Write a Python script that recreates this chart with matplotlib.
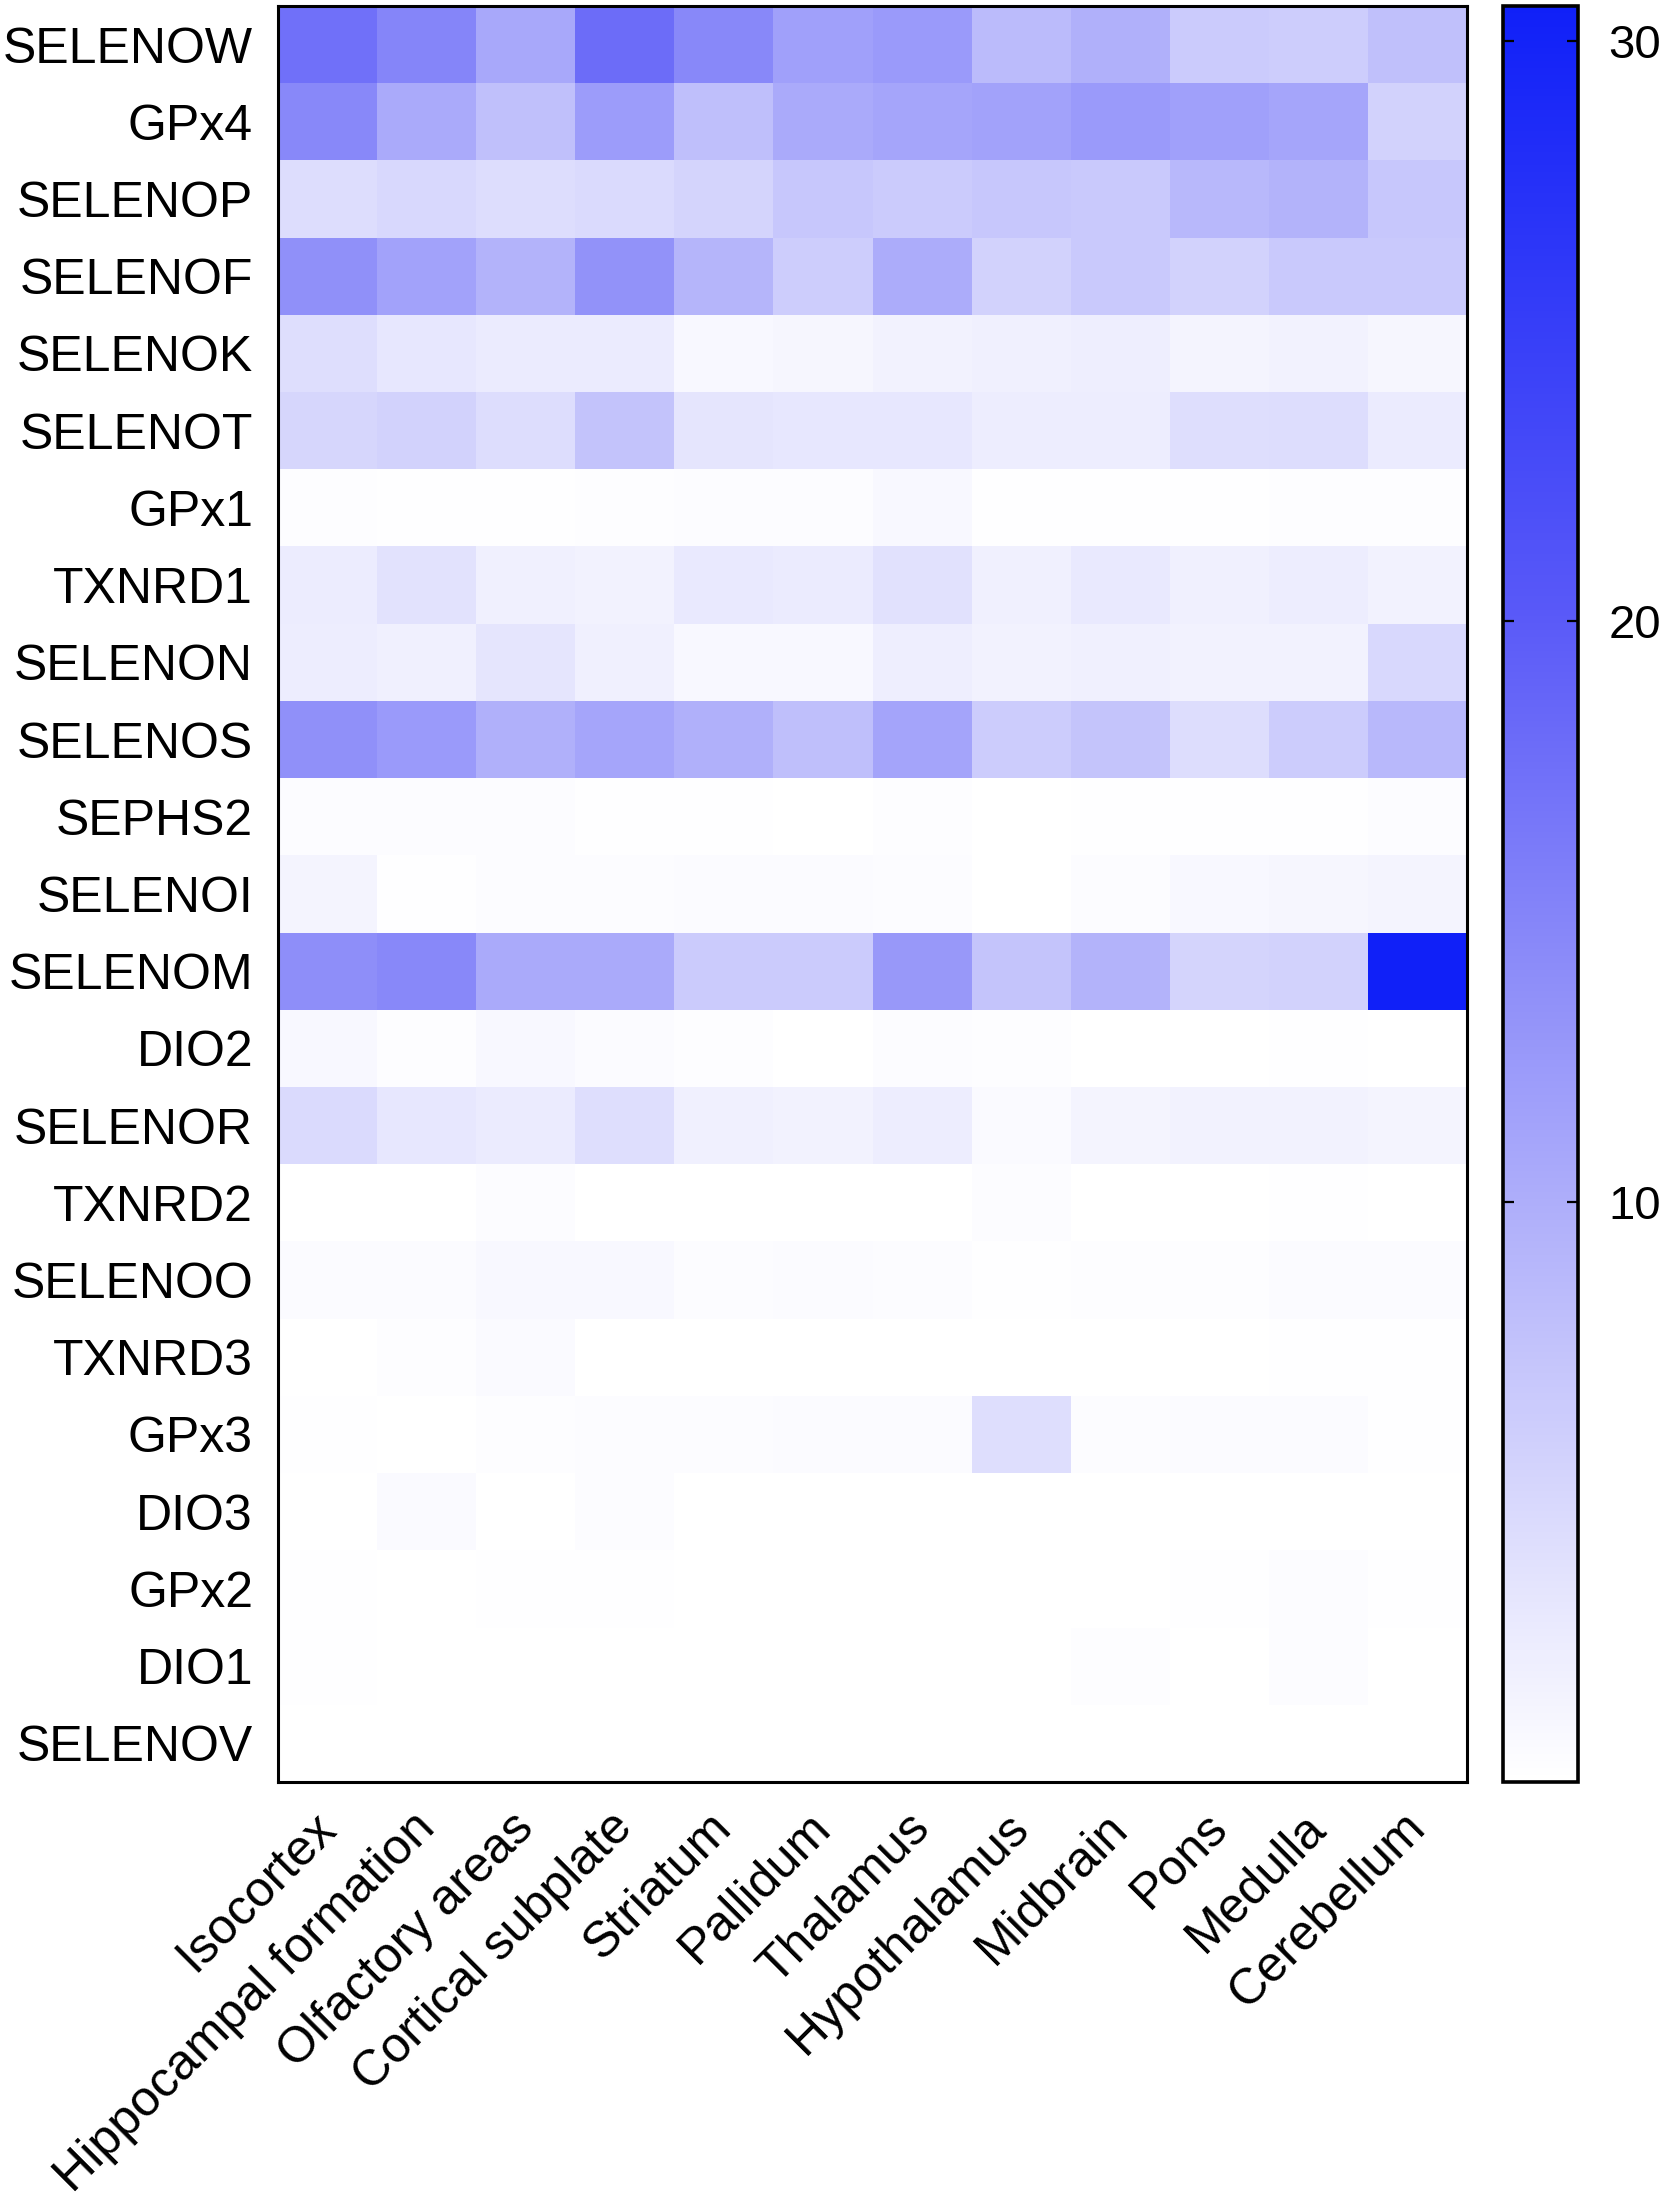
import numpy as np
import matplotlib
matplotlib.use("Agg")
import matplotlib.pyplot as plt
import matplotlib.transforms as mtransforms
from matplotlib.colors import LinearSegmentedColormap

plt.rcParams['font.family'] = ['Liberation Sans', 'DejaVu Sans']

# genes (rows, top to bottom) and brain regions (columns)
genes = ["SELENOW", "GPx4", "SELENOP", "SELENOF", "SELENOK", "SELENOT", "GPx1",
         "TXNRD1", "SELENON", "SELENOS", "SEPHS2", "SELENOI", "SELENOM", "DIO2",
         "SELENOR", "TXNRD2", "SELENOO", "TXNRD3", "GPx3", "DIO3", "GPx2", "DIO1",
         "SELENOV"]
regions = ["Isocortex", "Hippocampal formation", "Olfactory areas",
           "Cortical subplate", "Striatum", "Pallidum", "Thalamus",
           "Hypothalamus", "Midbrain", "Pons", "Medulla", "Cerebellum"]

# expression values
selenow = [17.4, 14.9, 10.7, 17.9, 14.5, 11.7, 12.4, 8.4, 9.8, 6.5, 6.2, 7.8]
gpx4 = [14.5, 10.5, 7.8, 12.1, 8.0, 10.5, 11.0, 11.4, 12.4, 11.7, 11.0, 5.6]
selenop = [4.3, 4.8, 4.3, 4.6, 5.3, 7.0, 6.5, 7.0, 6.8, 8.8, 9.4, 7.0]
selenof = [13.6, 11.4, 9.4, 13.3, 9.1, 6.2, 10.2, 5.6, 6.8, 5.6, 6.7, 6.8]
selenok = [4.1, 3.1, 2.6, 2.6, 0.9, 1.1, 1.6, 1.9, 2.1, 1.4, 1.6, 1.1]
selenot = [5.1, 5.6, 4.3, 7.5, 3.3, 3.1, 3.1, 2.3, 2.3, 4.1, 4.3, 2.6]
gpx1 = [0.25, 0.12, 0.12, 0.25, 0.37, 0.37, 0.9, 0.12, 0.12, 0.12, 0.25, 0.25]
txnrd1 = [2.5, 3.6, 1.9, 1.6, 2.8, 2.6, 3.8, 1.9, 2.8, 1.9, 2.3, 1.6]
selenon = [2.3, 1.9, 3.3, 1.9, 0.9, 0.9, 2.1, 1.6, 1.9, 1.6, 1.6, 4.8]
selenos = [13.6, 12.4, 9.8, 11.0, 9.8, 8.0, 11.2, 6.3, 7.3, 4.3, 6.3, 8.8]
sephs2 = [0.37, 0.37, 0.37, 0.12, 0.12, 0.0, 0.25, 0.0, 0.12, 0.12, 0.12, 0.37]
selenoi = [1.4, 0.12, 0.37, 0.37, 0.5, 0.5, 0.37, 0.0, 0.37, 0.9, 1.1, 1.4]
selenom = [13.8, 14.5, 10.4, 10.5, 6.5, 6.4, 12.6, 7.3, 9.4, 5.3, 5.6, 30.6]
dio2 = [0.9, 0.25, 0.9, 0.5, 0.25, 0.0, 0.37, 0.25, 0.0, 0.0, 0.12, 0.0]
selenor = [4.6, 3.1, 2.6, 4.1, 1.9, 1.6, 2.3, 0.6, 1.4, 1.6, 1.6, 1.4]
txnrd2 = [0.0, 0.0, 0.37, 0.0, 0.0, 0.0, 0.0, 0.37, 0.0, 0.0, 0.12, 0.0]
selenoo = [0.5, 0.5, 0.9, 0.9, 0.37, 0.5, 0.37, 0.12, 0.25, 0.25, 0.5, 0.5]
txnrd3 = [0.0, 0.25, 0.6, 0.0, 0.0, 0.0, 0.0, 0.0, 0.0, 0.0, 0.12, 0.12]
gpx3 = [0.12, 0.0, 0.25, 0.37, 0.37, 0.5, 0.5, 4.1, 0.37, 0.5, 0.5, 0.12]
dio3 = [0.0, 0.6, 0.0, 0.37, 0.0, 0.0, 0.0, 0.0, 0.0, 0.0, 0.0, 0.0]
gpx2 = [0.12, 0.0, 0.12, 0.12, 0.0, 0.0, 0.0, 0.0, 0.0, 0.12, 0.37, 0.12]
dio1 = [0.12, 0.0, 0.0, 0.0, 0.0, 0.0, 0.0, 0.0, 0.25, 0.0, 0.37, 0.0]
selenov = [0.05, 0.05, 0.05, 0.05, 0.05, 0.05, 0.05, 0.05, 0.05, 0.05, 0.05, 0.05]

cbar_ticks = [10, 20, 30]

data = np.array([selenow, gpx4, selenop, selenof, selenok, selenot, gpx1,
                 txnrd1, selenon, selenos, sephs2, selenoi, selenom, dio2,
                 selenor, txnrd2, selenoo, txnrd3, gpx3, dio3, gpx2, dio1,
                 selenov])

vmax = 30.6
# white -> blue, a bit convex like the original scale
cmap = LinearSegmentedColormap.from_list(
    "wb",
    [(0.0, (1, 1, 1)),
     (10 / vmax, (174 / 255, 174 / 255, 250 / 255)),
     (20 / vmax, (90 / 255, 90 / 255, 248 / 255)),
     (1.0, (16 / 255, 32 / 255, 248 / 255))])

fig = plt.figure(figsize=(16.61, 21.97), dpi=100)
ax = fig.add_axes([0.1674, 0.1889, 0.7158, 0.8084])
cax = fig.add_axes([0.9049, 0.1889, 0.0451, 0.8084])

im = ax.pcolormesh(data, cmap=cmap, vmin=0, vmax=vmax)
ax.set_xlim(0, len(regions))
ax.set_ylim(len(genes), 0)

ax.set_yticks(np.arange(len(genes)) + 0.5)
ax.set_yticklabels(genes, fontsize=36)
ax.set_xticks(np.arange(len(regions)) + 0.5)
ax.set_xticklabels(regions, fontsize=36, rotation=45, ha='right')
ax.tick_params(axis='both', length=0)
ax.tick_params(axis='y', pad=18)
ax.tick_params(axis='x', pad=16)
# nudge rotated labels to the right, like the original
shift = mtransforms.ScaledTranslation(0.17, 0, fig.dpi_scale_trans)
for lab in ax.get_xticklabels():
    lab.set_transform(lab.get_transform() + shift)
for s in ax.spines.values():
    s.set_linewidth(2.2)

cb = fig.colorbar(im, cax=cax, ticks=cbar_ticks)
cb.outline.set_linewidth(2.6)
cax.tick_params(axis='y', direction='in', length=8, width=1.6, labelsize=34,
                pad=22, left=True, right=True)
cax.set_yticklabels([str(t) for t in cbar_ticks])

fig.savefig("out.png", dpi=100)
